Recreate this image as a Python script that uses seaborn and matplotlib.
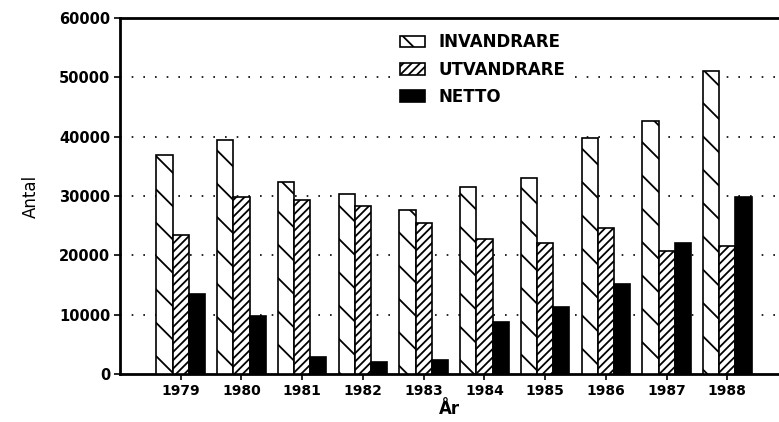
import pandas as pd
import matplotlib
matplotlib.use('Agg')
import matplotlib.pyplot as plt
import seaborn as sns
from matplotlib.patches import Patch

# ── Data ─────────────────────────────────────
years = ['1979', '1980', '1981', '1982', '1983',
         '1984', '1985', '1986', '1987', '1988']
invandrare = [37000, 39500, 32300, 30300, 27600,
              31500, 33100, 39800, 42700, 51100]
utvandrare = [23500, 29800, 29300, 28300, 25400,
              22800, 22000, 24600, 20700, 21500]
netto = [13500, 9800, 2900, 2000, 2300,
         8800, 11200, 15100, 22100, 29800]
series = ['INVANDRARE', 'UTVANDRARE', 'NETTO']
yticks = [0, 10000, 20000, 30000, 40000, 50000, 60000]

df = pd.DataFrame({
    'year': years * 3,
    'serie': [s for s in series for _ in years],
    'antal': invandrare + utvandrare + netto,
})

sns.set_style('white')
plt.rcParams['font.family'] = ['DejaVu Sans']
plt.rcParams['hatch.linewidth'] = 1.3
plt.rcParams['text.color'] = 'black'
plt.rcParams['axes.labelcolor'] = 'black'
plt.rcParams['xtick.color'] = 'black'
plt.rcParams['ytick.color'] = 'black'

fig = plt.figure(figsize=(7.79, 4.22), dpi=100)
ax = fig.add_axes([0.154, 0.114, 0.846, 0.843])

sns.barplot(data=df, x='year', y='antal', hue='serie',
            hue_order=series, order=years, width=0.8,
            palette=['white', 'white', 'black'],
            edgecolor='black', linewidth=1.2, ax=ax, zorder=3)

# hatches per serie
styles = [('white', '\\'), ('white', '////'), ('black', '')]
for cont, (fc, h) in zip(ax.containers, styles):
    for bar in cont:
        bar.set_facecolor(fc)
        bar.set_hatch(h)
        bar.set_edgecolor('black')

ax.set_xlim(-1.0, 9.85)
ax.set_ylim(0, 60000)
ax.set_yticks(yticks)
ax.set_yticklabels([str(v) for v in yticks],
                   fontsize=10.5, fontweight='bold')
ax.set_xticks(range(len(years)))
ax.set_xticklabels(years, fontsize=10, fontweight='bold')
ax.tick_params(axis='both', direction='out', length=4,
               width=1.2, color='black', labelcolor='black',
               left=True, bottom=True, pad=3)
ax.tick_params(axis='x', pad=3)

# dotted grid lines
for v in yticks[1:-1]:
    ax.axhline(v, color='black', linewidth=1.2,
               linestyle=(0, (1, 6)), zorder=1)

for side in ['left', 'bottom', 'top']:
    ax.spines[side].set_visible(True)
    ax.spines[side].set_linewidth(2)
    ax.spines[side].set_color('black')
ax.spines['right'].set_visible(False)

ax.set_ylabel('Antal', fontsize=12, labelpad=14)
ax.set_xlabel('År', fontsize=12, fontweight='bold', labelpad=1.5)

handles = [Patch(facecolor=fc, edgecolor='black', hatch=h,
                 linewidth=1.2) for fc, h in styles]
ax.legend(handles, series, loc='upper left',
          bbox_to_anchor=(0.41, 0.985), frameon=True,
          facecolor='white', edgecolor='none', framealpha=1,
          fancybox=False, borderpad=0.1, handlelength=1.5,
          handleheight=0.7, handletextpad=0.8, labelspacing=0.55,
          prop={'weight': 'bold', 'size': 12})

fig.savefig('out.png', dpi=100)
